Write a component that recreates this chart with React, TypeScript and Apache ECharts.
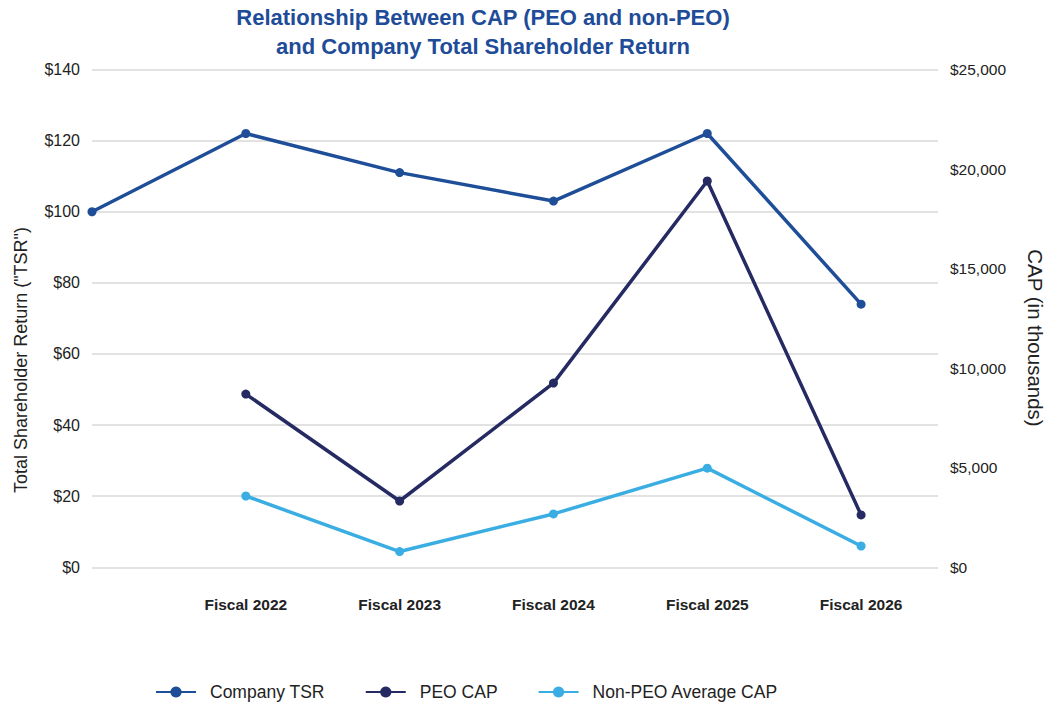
import React, { useEffect, useRef } from "react";
import * as echarts from "echarts";

const categories = ["", "Fiscal 2022", "Fiscal 2023", "Fiscal 2024", "Fiscal 2025", "Fiscal 2026"];
const tsrValues = [100, 122, 111, 103, 122, 74];
const peoCapValues = [null, 8700, 3330, 9250, 19400, 2630];
const nonPeoCapValues = [null, 3580, 790, 2680, 4980, 1070];
const leftTicks = { min: 0, max: 140, interval: 20 };
const rightTicks = { min: 0, max: 25000, interval: 5000 };

const FONT = "Liberation Sans, Arial, sans-serif";

const toPairs = (arr: (number | null)[]) =>
  arr.map((v, i) => (v === null ? null : [i, v])).filter((p) => p !== null);

export default function App() {
  const ref = useRef<HTMLDivElement>(null);
  useEffect(() => {
    if (!ref.current) return;
    const chart = echarts.init(ref.current, null, { renderer: "svg" });
    chart.setOption({
      animation: false,
      backgroundColor: "#ffffff",
      textStyle: { fontFamily: FONT },
      title: {
        text: "Relationship Between CAP (PEO and non-PEO)\nand Company Total Shareholder Return",
        left: 478,
        textAlign: "center",
        top: -2,
        textStyle: {
          fontFamily: FONT,
          fontSize: 22,
          fontWeight: "bold",
          color: "#1e4c98",
          lineHeight: 29,
        },
      },
      legend: {
        top: 678,
        left: 150,
        itemWidth: 40,
        itemHeight: 14,
        itemGap: 40,
        textStyle: { fontFamily: FONT, fontSize: 17.5, color: "#222", padding: [0, 0, 0, 9] },
        data: ["Company TSR", "PEO CAP", "Non-PEO Average CAP"],
      },
      graphic: [
        {
          type: "text",
          x: 21,
          y: 360,
          rotation: Math.PI / 2,
          style: {
            text: 'Total Shareholder Return ("TSR")',
            font: `18px ${FONT}`,
            fill: "#222",
            align: "center",
            verticalAlign: "middle",
          },
        },
        {
          type: "text",
          x: 1035,
          y: 338,
          rotation: -Math.PI / 2,
          style: {
            text: "CAP (in thousands)",
            font: `20.5px ${FONT}`,
            fill: "#222",
            align: "center",
            verticalAlign: "middle",
          },
        },
      ],
      grid: { left: 92, right: 113, top: 69.5, bottom: 139.7 },
      xAxis: {
        type: "value",
        min: 0,
        max: 5.5,
        interval: 1,
        axisLine: { show: false },
        axisTick: { show: false },
        splitLine: { show: false },
        axisLabel: {
          showMaxLabel: false,
          margin: 29,
          fontFamily: FONT,
          fontSize: 15.5,
          fontWeight: "bold",
          color: "#222",
          formatter: (v: number) => categories[v] ?? "",
        },
      },
      yAxis: [
        {
          type: "value",
          ...leftTicks,
          axisLine: { show: false },
          axisTick: { show: false },
          splitLine: { lineStyle: { color: "#d9d9d9", width: 1.5 } },
          axisLabel: {
            margin: 12,
            fontFamily: FONT,
            fontSize: 16,
            color: "#222",
            formatter: (v: number) => "$" + v,
          },
        },
        {
          type: "value",
          ...rightTicks,
          axisLine: { show: false },
          axisTick: { show: false },
          splitLine: { show: false },
          axisLabel: {
            margin: 12,
            padding: [8, 0, 0, 0],
            fontFamily: FONT,
            fontSize: 15.5,
            color: "#222",
            formatter: (v: number) => "$" + v.toLocaleString("en-US"),
          },
        },
      ],
      series: [
        {
          name: "Company TSR",
          type: "line",
          yAxisIndex: 0,
          data: toPairs(tsrValues),
          symbol: "circle",
          symbolSize: 9,
          lineStyle: { width: 3.5, color: "#1f4e99" },
          itemStyle: { color: "#1f4e99" },
        },
        {
          name: "PEO CAP",
          type: "line",
          yAxisIndex: 1,
          data: toPairs(peoCapValues),
          symbol: "circle",
          symbolSize: 9,
          lineStyle: { width: 3.5, color: "#252a62" },
          itemStyle: { color: "#252a62" },
        },
        {
          name: "Non-PEO Average CAP",
          type: "line",
          yAxisIndex: 1,
          data: toPairs(nonPeoCapValues),
          symbol: "circle",
          symbolSize: 9,
          lineStyle: { width: 3.5, color: "#3aaee2" },
          itemStyle: { color: "#3aaee2" },
        },
      ],
    });
    return () => chart.dispose();
  }, []);
  return (
    <div
      ref={ref}
      style={{ position: "fixed", left: 0, top: 0, width: 1051, height: 707 }}
    />
  );
}
